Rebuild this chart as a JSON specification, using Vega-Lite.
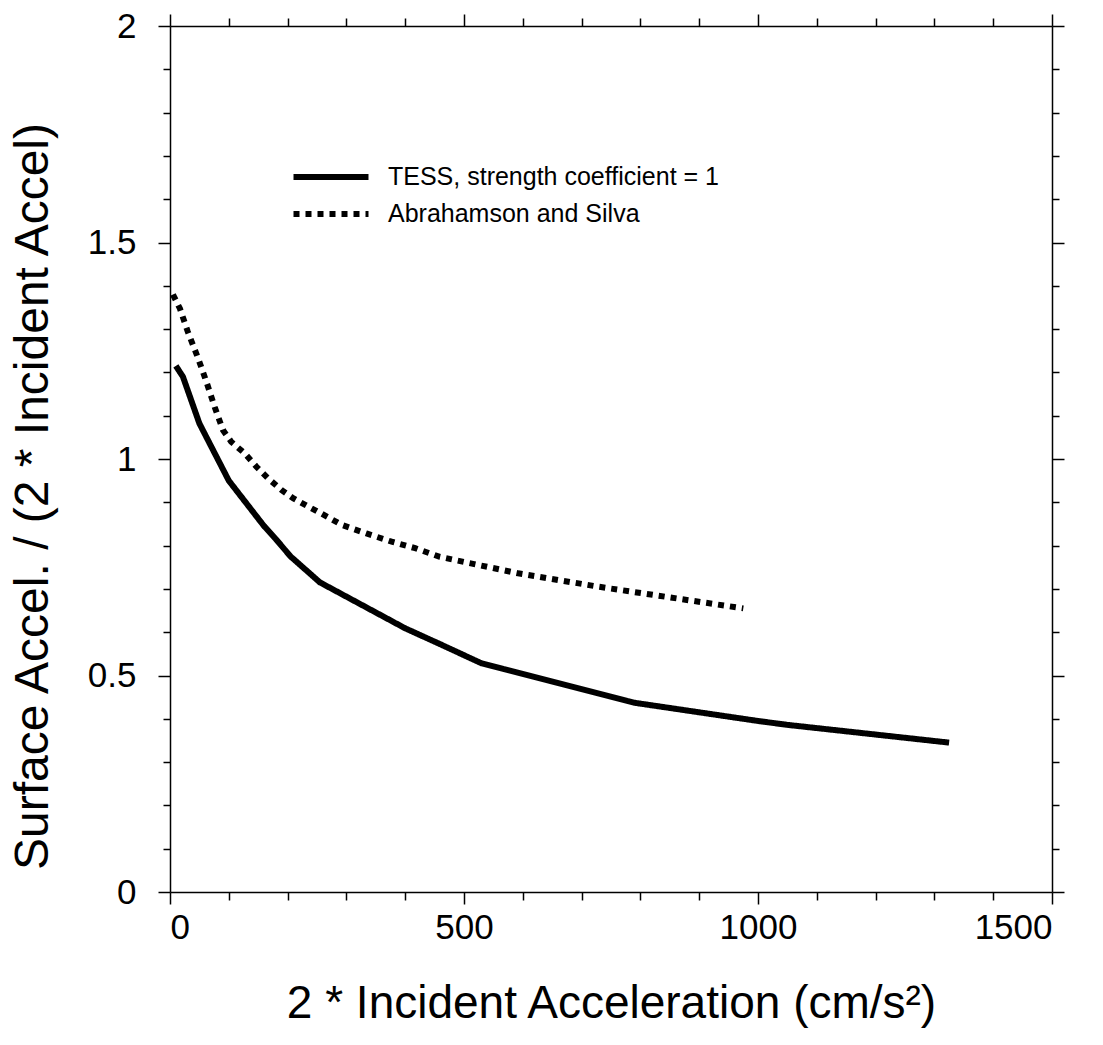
{
  "$schema": "https://vega.github.io/schema/vega-lite/v6.json",
  "width": 882,
  "height": 866,
  "autosize": "none",
  "padding": {"left": 170, "top": 26, "right": 51, "bottom": 153},
  "background": "white",
  "config": {
    "view": {"stroke": null},
    "font": "Liberation Sans",
    "axis": {"grid": false, "domainColor": "black", "domainWidth": 1.5, "tickColor": "black", "tickWidth": 1.5, "labelColor": "black", "titleColor": "black", "labelFont": "Liberation Sans", "titleFont": "Liberation Sans", "titleFontWeight": "normal"}
  },
  "data": {
    "values": [
      {"series": "TESS, strength coefficient = 1", "x": 10, "y": 1.215},
      {"series": "TESS, strength coefficient = 1", "x": 22, "y": 1.19},
      {"series": "TESS, strength coefficient = 1", "x": 50, "y": 1.082},
      {"series": "TESS, strength coefficient = 1", "x": 100, "y": 0.95},
      {"series": "TESS, strength coefficient = 1", "x": 160, "y": 0.845},
      {"series": "TESS, strength coefficient = 1", "x": 180, "y": 0.815},
      {"series": "TESS, strength coefficient = 1", "x": 205, "y": 0.775},
      {"series": "TESS, strength coefficient = 1", "x": 255, "y": 0.715},
      {"series": "TESS, strength coefficient = 1", "x": 400, "y": 0.609},
      {"series": "TESS, strength coefficient = 1", "x": 460, "y": 0.572},
      {"series": "TESS, strength coefficient = 1", "x": 530, "y": 0.528},
      {"series": "TESS, strength coefficient = 1", "x": 790, "y": 0.437},
      {"series": "TESS, strength coefficient = 1", "x": 1000, "y": 0.395},
      {"series": "TESS, strength coefficient = 1", "x": 1050, "y": 0.386},
      {"series": "TESS, strength coefficient = 1", "x": 1325, "y": 0.345},
      {"series": "Abrahamson and Silva", "x": 5, "y": 1.38},
      {"series": "Abrahamson and Silva", "x": 17, "y": 1.347},
      {"series": "Abrahamson and Silva", "x": 30, "y": 1.295},
      {"series": "Abrahamson and Silva", "x": 48, "y": 1.232},
      {"series": "Abrahamson and Silva", "x": 62, "y": 1.178},
      {"series": "Abrahamson and Silva", "x": 76, "y": 1.12},
      {"series": "Abrahamson and Silva", "x": 90, "y": 1.067},
      {"series": "Abrahamson and Silva", "x": 104, "y": 1.04},
      {"series": "Abrahamson and Silva", "x": 127, "y": 1.013},
      {"series": "Abrahamson and Silva", "x": 147, "y": 0.982},
      {"series": "Abrahamson and Silva", "x": 167, "y": 0.955},
      {"series": "Abrahamson and Silva", "x": 190, "y": 0.928},
      {"series": "Abrahamson and Silva", "x": 210, "y": 0.909},
      {"series": "Abrahamson and Silva", "x": 230, "y": 0.894},
      {"series": "Abrahamson and Silva", "x": 252, "y": 0.878},
      {"series": "Abrahamson and Silva", "x": 292, "y": 0.848},
      {"series": "Abrahamson and Silva", "x": 334, "y": 0.828},
      {"series": "Abrahamson and Silva", "x": 377, "y": 0.809},
      {"series": "Abrahamson and Silva", "x": 417, "y": 0.794},
      {"series": "Abrahamson and Silva", "x": 459, "y": 0.774},
      {"series": "Abrahamson and Silva", "x": 592, "y": 0.736},
      {"series": "Abrahamson and Silva", "x": 729, "y": 0.705},
      {"series": "Abrahamson and Silva", "x": 975, "y": 0.655}
    ]
  },
  "layer": [
    {
      "mark": {"type": "line", "color": "black", "strokeWidth": 6, "strokeCap": "butt"},
      "encoding": {
        "x": {"field": "x", "type": "quantitative", "scale": {"domain": [0, 1500], "nice": false, "zero": false},
          "axis": {"orient": "bottom", "values": [0,100,200,300,400,500,600,700,800,900,1000,1100,1200,1300,1400,1500],
            "labelExpr": "datum.value % 500 === 0 ? format(datum.value, 'd') : ''", "labelFontSize": 35, "labelPadding": 6,
            "tickSize": {"condition": {"test": "datum.value % 500 === 0", "value": 12}, "value": 8},
            "title": "2 * Incident Acceleration (cm/s²)", "titleFontSize": 46, "titlePadding": 36}},
        "y": {"field": "y", "type": "quantitative", "scale": {"domain": [0, 2], "nice": false, "zero": false},
          "axis": {"orient": "left", "values": [0,0.1,0.2,0.3,0.4,0.5,0.6,0.7,0.8,0.9,1,1.1,1.2,1.3,1.4,1.5,1.6,1.7,1.8,1.9,2],
            "labelExpr": "round(datum.value * 10) % 5 === 0 ? format(datum.value, '~g') : ''", "labelFontSize": 35, "labelPadding": 22,
            "tickSize": {"condition": {"test": "round(datum.value * 10) % 5 === 0", "value": 12}, "value": 7},
            "title": "Surface Accel. / (2 * Incident Accel)", "titleFontSize": 48, "titleX": -137, "titleY": 470, "titleBaseline": "middle", "titleAngle": -90}},
        "strokeDash": {"field": "series", "type": "nominal",
          "scale": {"domain": ["TESS, strength coefficient = 1", "Abrahamson and Silva"], "range": [[1, 0], [6, 6]]},
          "legend": {"orient": "none", "legendX": 139, "legendY": 129, "title": null, "symbolType": "M-2,0H2", "symbolSize": 1406, "symbolStrokeWidth": 6, "symbolStrokeColor": "black", "symbolFillColor": "transparent", "labelFontSize": 25, "labelColor": "black", "labelFont": "Liberation Sans", "labelOffset": 35, "labelLimit": 0, "rowPadding": 2}}
      }
    },
    {
      "mark": {"type": "line", "strokeOpacity": 0},
      "encoding": {
        "x": {"field": "x", "type": "quantitative",
          "axis": {"orient": "top", "values": [0,100,200,300,400,500,600,700,800,900,1000,1100,1200,1300,1400,1500], "labels": false, "title": null,
            "tickSize": {"condition": {"test": "datum.value % 500 === 0", "value": 12}, "value": 8}}},
        "y": {"field": "y", "type": "quantitative",
          "axis": {"orient": "right", "values": [0,0.1,0.2,0.3,0.4,0.5,0.6,0.7,0.8,0.9,1,1.1,1.2,1.3,1.4,1.5,1.6,1.7,1.8,1.9,2], "labels": false, "title": null,
            "tickSize": {"condition": {"test": "round(datum.value * 10) % 5 === 0", "value": 12}, "value": 7}}},
        "detail": {"field": "series", "type": "nominal"}
      }
    }
  ],
  "resolve": {"axis": {"x": "independent", "y": "independent"}}
}
